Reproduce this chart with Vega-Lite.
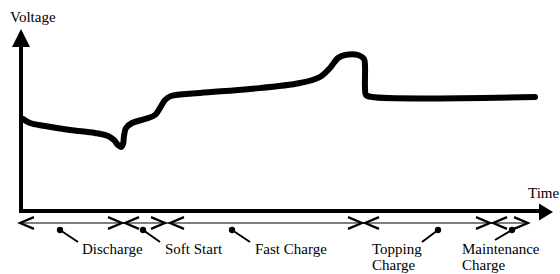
{
  "$schema": "https://vega.github.io/schema/vega-lite/v6.json",
  "width": 560,
  "height": 274,
  "padding": 0,
  "autosize": {"type": "none"},
  "background": "white",
  "config": {"view": {"stroke": null}, "font": "Liberation Serif", "text": {"font": "Liberation Serif"}},
  "datasets": {
    "curve": [
      {"t": 23, "v": 155}, {"t": 30, "v": 151}, {"t": 45, "v": 148}, {"t": 70, "v": 144},
      {"t": 95, "v": 141}, {"t": 108, "v": 138}, {"t": 114, "v": 134}, {"t": 118, "v": 129},
      {"t": 121, "v": 127}, {"t": 123, "v": 130}, {"t": 124, "v": 138}, {"t": 126, "v": 146},
      {"t": 132, "v": 151}, {"t": 145, "v": 155}, {"t": 155, "v": 159}, {"t": 160, "v": 166},
      {"t": 165, "v": 174}, {"t": 171, "v": 178}, {"t": 200, "v": 181}, {"t": 250, "v": 185},
      {"t": 300, "v": 191}, {"t": 320, "v": 197}, {"t": 330, "v": 206}, {"t": 338, "v": 216},
      {"t": 345, "v": 219}, {"t": 358, "v": 219}, {"t": 364, "v": 215}, {"t": 365, "v": 208},
      {"t": 365, "v": 186}, {"t": 366, "v": 179}, {"t": 372, "v": 177}, {"t": 535, "v": 177}
    ],
    "axes": [
      {"t": 21, "v": 61, "t2": 21, "v2": 229},
      {"t": 19, "v": 63, "t2": 540, "v2": 63}
    ],
    "heads": [
      {"t": 21, "v": 245, "kind": "up"},
      {"t": 553, "v": 62, "kind": "right"}
    ],
    "span": [
      {"t": 20, "v": 51, "t2": 528, "v2": 51}
    ],
    "chevrons": [
      {"t": 20, "v": 51, "dir": "left"}, {"t": 122, "v": 51, "dir": "right"},
      {"t": 125, "v": 51, "dir": "left"}, {"t": 165, "v": 51, "dir": "right"},
      {"t": 170, "v": 51, "dir": "left"}, {"t": 362, "v": 51, "dir": "right"},
      {"t": 365, "v": 51, "dir": "left"}, {"t": 490, "v": 51, "dir": "right"},
      {"t": 493, "v": 51, "dir": "left"}, {"t": 528, "v": 51, "dir": "right"}
    ],
    "leaders": [
      {"t": 60, "v": 44, "t2": 78, "v2": 32},
      {"t": 143, "v": 44, "t2": 160, "v2": 32},
      {"t": 232, "v": 44, "t2": 250, "v2": 32},
      {"t": 438, "v": 44, "t2": 422, "v2": 32},
      {"t": 512, "v": 44, "t2": 495, "v2": 34}
    ],
    "labels": [
      {"t": 10, "v": 252, "text": "Voltage"},
      {"t": 528, "v": 76, "text": "Time"},
      {"t": 82, "v": 20, "text": "Discharge"},
      {"t": 165, "v": 20, "text": "Soft Start"},
      {"t": 255, "v": 20, "text": "Fast Charge"},
      {"t": 372, "v": 20, "text": "Topping\nCharge"},
      {"t": 462, "v": 20, "text": "Maintenance\nCharge"}
    ]
  },
  "resolve": {"scale": {"shape": "independent", "size": "independent"}},
  "encoding": {
    "x": {"field": "t", "type": "quantitative", "scale": {"domain": [0, 560], "nice": false, "zero": false}, "axis": null},
    "y": {"field": "v", "type": "quantitative", "scale": {"domain": [0, 274], "nice": false, "zero": false}, "axis": null}
  },
  "layer": [
    {
      "data": {"name": "axes"},
      "mark": {"type": "rule", "color": "black", "strokeWidth": 4, "strokeCap": "butt"},
      "encoding": {"x2": {"field": "t2"}, "y2": {"field": "v2"}}
    },
    {
      "data": {"name": "heads"},
      "mark": {"type": "point", "filled": true, "color": "black", "opacity": 1, "strokeWidth": 0},
      "encoding": {
        "shape": {"field": "kind", "type": "nominal", "scale": {"domain": ["up", "right"], "range": ["M0,0L1,2L-1,2Z", "M0,0L-1.75,-1.05L-1.75,1.05Z"]}, "legend": null},
        "size": {"field": "kind", "type": "nominal", "scale": {"domain": ["up", "right"], "range": [324, 256]}, "legend": null}
      }
    },
    {
      "data": {"name": "span"},
      "mark": {"type": "rule", "color": "black", "strokeWidth": 1.2},
      "encoding": {"x2": {"field": "t2"}, "y2": {"field": "v2"}}
    },
    {
      "data": {"name": "chevrons"},
      "mark": {"type": "point", "filled": false, "color": "black", "opacity": 1, "strokeWidth": 2.2, "size": 784},
      "encoding": {
        "shape": {"field": "dir", "type": "nominal", "scale": {"domain": ["left", "right"], "range": ["M1,-0.42L0,0L1,0.42", "M-1,-0.42L0,0L-1,0.42"]}, "legend": null}
      }
    },
    {
      "data": {"name": "leaders"},
      "mark": {"type": "rule", "color": "black", "strokeWidth": 2},
      "encoding": {"x2": {"field": "t2"}, "y2": {"field": "v2"}}
    },
    {
      "data": {"name": "leaders"},
      "mark": {"type": "point", "filled": true, "color": "black", "opacity": 1, "size": 40}
    },
    {
      "data": {"name": "curve"},
      "mark": {"type": "line", "color": "black", "strokeWidth": 6, "strokeCap": "round", "strokeJoin": "round", "interpolate": "catmull-rom"},
      "encoding": {"order": {"field": "t", "type": "quantitative"}}
    },
    {
      "data": {"name": "labels"},
      "mark": {"type": "text", "align": "left", "baseline": "alphabetic", "font": "Liberation Serif", "fontSize": 15, "lineHeight": 16, "lineBreak": "\n", "color": "black"},
      "encoding": {"text": {"field": "text", "type": "nominal"}}
    }
  ]
}
